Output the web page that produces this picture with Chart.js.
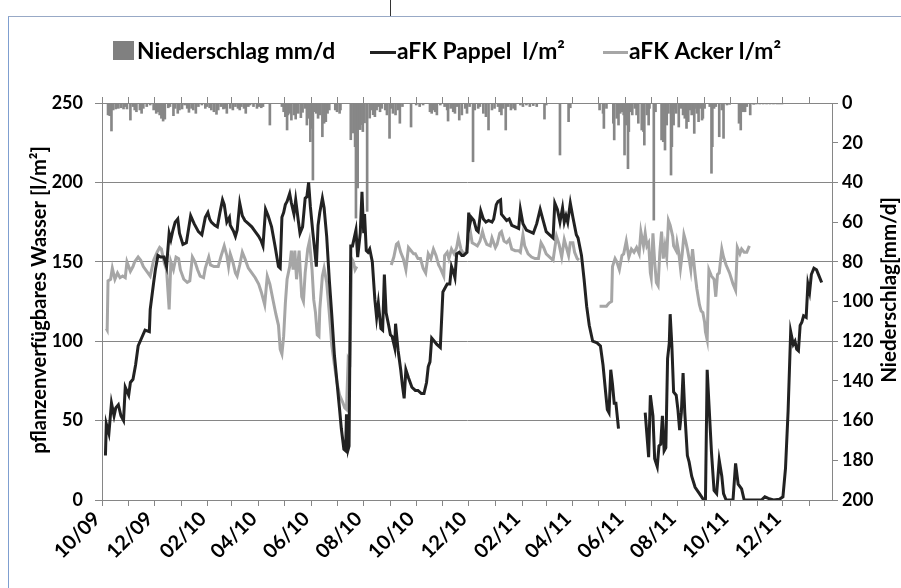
<!DOCTYPE html>
<html>
<head>
<meta charset="utf-8">
<title>aFK Pappel / Acker</title>
<script src="https://cdn.jsdelivr.net/npm/chart.js@4.4.0/dist/chart.umd.min.js"></script>
<style>
    html, body { margin: 0; padding: 0; background: #fff; }
    #wrap { position: relative; width: 901px; height: 588px; overflow: hidden; }
    #frame { position: absolute; left: 8px; top: 16px; width: 1000px; height: 1000px;
             border-left: 1px solid #7f9fd0; border-top: 1px solid #98a9c6; }
    #mark { position: absolute; left: 390px; top: 0; width: 1px; height: 16px; background: #333; }
    #chart { position: absolute; left: 0; top: 0; }
</style>
</head>
<body>
<div id="wrap">
    <div id="frame"></div>
    <div id="mark"></div>
    <canvas id="chart" width="901" height="588"></canvas>
</div>
<script>
// Day 0 = 01.10.2009
const tickLabels = ['10/09', '12/09', '02/10', '04/10', '06/10', '08/10', '10/10',
                    '12/10', '02/11', '04/11', '06/11', '08/11', '10/11', '12/11'];

// aFK Pappel l/m² (null = Messlücke)
const pappelDays = [4, 5, 8, 11, 14, 16, 19, 22, 25, 27, 31, 33, 36, 39, 42, 46, 50, 55, 56, 60,
    62, 65, 68, 72, 75, 78, 80, 82, 85, 88, 90, 94, 98, 103, 107, 112, 116, 120, 123, 125,
    127, 131, 134, 137, 140, 142, 145, 148, 149, 153, 155, 157, 160, 163, 166, 170, 174, 178, 182, 185,
    187, 190, 193, 197, 201, 205, 207, 209, 211, 213, 215, 218, 220, 223, 225, 228, 230, 233, 236, 238,
    240, 242, 245, 247, 249, 251, 253, 256, 258, 261, 264, 267, 270, 273, 276, 278, 281, 283, 284, 286,
    287, 289, 291, 295, 297, 300, 302, 304, 305, 307, 309, 311, 314, 317, 319, 321, 324, 326, 328, 330,
    333, 335, 337, 340, 341, 344, 347, 349, 351, 353, 356, 360, 364, 367, 371, 374, 377, 379, 381, 383,
    386, 389, 393, 396, 398, 401, 404, 406, 408, 410, 412, 415, 418, 420, 424, 426, 427, 429, 432, 435,
    437, 440, 443, 446, 449, 453, 455, 458, 460, 463, 464, 467, 470, 473, 476, 480, 484, 486, 489, 493,
    497, 501, 505, 509, 513, 516, 520, 524, 526, 529, 532, 535, 537, 539, 541, 544, 547, 551, 553, 557,
    560, 563, 566, 570, 575, 579, 582, 585, 587, 589, 591, 593, 595, 597, 600, 615,
    631, 633, 635, 637, 640, 642, 645, 647, 649, 651, 653, 655, 657, 659, 660, 662, 664, 667, 669, 671,
    673, 675, 677, 680, 682, 685, 689, 694, 699, 701, 703, 705, 708, 711, 714, 717, 720, 722, 725, 733,
    736, 739, 743, 746, 766, 770, 774, 780, 787, 791, 794, 797, 800, 803, 805, 807, 809, 811, 813, 815,
    818, 820, 822, 824, 827, 830, 833, 836];
const pappelValues = [28, 48, 42, 61, 53, 58, 60, 53, 50, 71, 66, 74, 76, 85, 97, 102, 107, 106, 120, 137,
    145, 154, 153, 153, 147, 168, 164, 169, 175, 177, 168, 161, 162, 179, 174, 169, 167, 178, 181, 177,
    175, 173, 172, 181, 189, 186, 175, 178, 173, 169, 166, 170, 187, 179, 176, 174, 172, 169, 166, 163,
    160, 183, 179, 172, 160, 147, 146, 178, 181, 186, 188, 193, 187, 180, 189, 176, 168, 172, 190, 191,
    200, 185, 168, 158, 147, 173, 181, 190, 184, 166, 139, 116, 91, 74, 57, 45, 32, 31, 54, 32,
    34, 160, 160, 170, 153, 168, 194, 168, 180, 157, 156, 158, 150, 126, 115, 124, 108, 107, 142, 118,
    110, 104, 103, 96, 111, 94, 82, 72, 64, 82, 77, 71, 69, 69, 67, 67, 74, 84, 87, 102,
    100, 98, 96, 131, 133, 136, 136, 147, 144, 140, 155, 156, 154, 154, 156, 181, 173, 178, 176, 170,
    169, 182, 177, 175, 176, 175, 177, 186, 188, 189, 180, 178, 176, 177, 173, 172, 171, 183, 174, 170,
    169, 168, 174, 183, 175, 169, 167, 165, 187, 183, 175, 184, 175, 179, 175, 187, 178, 167, 165, 154,
    139, 122, 110, 100, 99, 97, 85, 68, 57, 55, 82, 73, 61, 61, 45, null,
    55, 41, 27, 66, 53, 26, 21, 34, 35, 53, 31, 33, 89, 99, 117, 97, 68, 66, 57, 44,
    55, 80, 55, 28, 24, 15, 8, 4, 0, 0, 82, 61, 30, 6, 4, 25, 15, 4, 0, 0,
    23, 10, 7, 0, 0, 2, 1, 0, 0.5, 2, 20, 56, 106, 98, 100, 95, 94, 110, 112, 116,
    115, 136, 131, 142, 146, 145, 141, 137];

// aFK Acker l/m²
const ackerDays = [5, 6, 7, 10, 12, 15, 18, 21, 24, 27, 29, 33, 36, 38, 42, 45, 48, 52, 56, 60,
    64, 67, 69, 72, 75, 78, 80, 83, 86, 89, 91, 95, 99, 102, 105, 108, 111, 114, 118, 120,
    124, 126, 130, 135, 138, 142, 145, 147, 149, 152, 155, 157, 160, 163, 166, 170, 174, 178, 182, 185,
    189, 192, 195, 199, 202, 205, 207, 209, 211, 213, 215, 218, 220, 222, 224, 226, 229, 232, 234, 236,
    239, 241, 244, 246, 248, 250, 252, 253, 256, 258, 261, 264, 267, 270, 273, 276, 280, 282, 284, 286,
    288, 290, 292, 294, 296, 316,
    336, 339, 342, 344, 347, 350, 353, 356, 359, 362, 364, 367, 370, 373, 376, 379, 382, 385, 388, 391,
    393, 397, 398, 401, 403, 406, 409, 412, 414, 417, 420, 423, 426, 427, 430, 433, 436, 439, 442, 444,
    447, 451, 453, 457, 459, 462, 464, 467, 470, 473, 476, 480, 484, 486, 489, 491, 495, 499, 503, 507,
    510, 513, 516, 520, 524, 528, 531, 534, 537, 539, 542, 544, 547, 549, 552, 554, 566,
    578, 586, 589, 592, 593, 596, 598, 601, 604, 606, 609, 612, 615, 618, 621, 624, 626, 629, 631, 633,
    635, 637, 638, 640, 642, 644, 646, 648, 650, 652, 654, 656, 658, 660, 663, 664, 667, 668, 670, 672,
    674, 676, 678, 680, 682, 684, 686, 689, 691, 694, 696, 698, 700, 701, 703, 705, 708, 711, 713, 715,
    717, 720, 722, 725, 729, 733, 736, 738, 741, 743, 746, 749, 752];
const ackerValues = [108, 107, 138, 139, 146, 139, 143, 140, 141, 140, 150, 144, 147, 150, 153, 151, 147, 144, 141, 151,
    156, 159, 158, 150, 145, 120, 150, 145, 153, 152, 145, 139, 137, 138, 153, 150, 145, 141, 140, 146,
    153, 148, 147, 147, 153, 160, 154, 147, 155, 150, 143, 141, 148, 156, 152, 146, 143, 140, 136, 131,
    123, 141, 136, 125, 117, 110, 95, 92, 103, 124, 139, 147, 157, 145, 157, 139, 157, 128, 125, 143,
    158, 163, 145, 126, 118, 104, 103, 120, 141, 146, 137, 118, 97, 85, 74, 66, 61, 58, 57, 89,
    87, 152, 150, 145, 147, null,
    148, 153, 161, 162, 156, 152, 145, 159, 157, 155, 155, 152, 152, 146, 143, 155, 152, 158, 154, 148,
    146, 141, 154, 156, 152, 158, 155, 159, 165, 158, 155, 156, 165, 172, 162, 161, 160, 163, 169, 165,
    161, 160, 165, 159, 161, 168, 169, 163, 162, 164, 158, 157, 157, 156, 167, 160, 155, 153, 152, 152,
    162, 159, 155, 153, 151, 166, 161, 153, 164, 160, 154, 162, 162, 156, 152, 151, null,
    122, 122, 124, 125, 147, 152, 150, 145, 154, 155, 163, 153, 158, 156, 159, 155, 169, 160, 168, 160,
    162, 143, 140, 168, 150, 137, 135, 156, 169, 152, 160, 153, 176, 173, 166, 160, 157, 162, 156, 146,
    155, 167, 163, 158, 152, 145, 158, 142, 133, 123, 119, 118, 112, 106, 101, 145, 141, 139, 128, 142,
    143, 158, 153, 148, 143, 136, 132, 159, 155, 158, 156, 156, 160];

// Niederschlag mm/d
const rainDays = [7, 9, 11, 13, 16, 19, 22, 25, 27, 29, 33, 36, 38, 40, 44, 46, 48, 52, 56, 60,
    63, 65, 67, 69, 71, 73, 77, 79, 83, 85, 88, 90, 93, 96, 99, 101, 104, 106, 109, 112,
    116, 120, 122, 125, 127, 130, 133, 135, 138, 141, 143, 145, 149, 152, 155, 158, 160, 162, 165, 167,
    170, 172, 176, 180, 182, 185, 187, 195, 209, 211, 213, 215, 216, 218, 220, 223, 225, 228, 231, 233,
    236, 238, 240, 242, 244, 245, 247, 249, 251, 253, 256, 258, 260, 262, 264, 271, 273, 276, 277, 289,
    292, 294, 295, 297, 299, 300, 302, 303, 305, 308, 311, 313, 315, 317, 319, 321, 323, 325, 329, 331,
    334, 336, 338, 341, 344, 346, 349, 359, 365, 369, 373, 381, 383, 385, 387, 389, 393, 398, 401, 402,
    405, 408, 410, 412, 415, 418, 422, 424, 427, 431, 433, 437, 439, 443, 446, 449, 453, 456, 460, 462,
    464, 466, 469, 472, 475, 478, 480, 486, 489, 493, 497, 501, 505, 514, 516, 532, 542, 544, 578, 582,
    583, 586, 594, 595, 598, 600, 602, 604, 606, 607, 609, 611, 612, 614, 616, 619, 621, 623, 627, 629,
    630, 633, 635, 636, 641, 643, 650, 652, 654, 656, 658, 661, 662, 664, 666, 667, 670, 673, 675, 677,
    679, 681, 683, 685, 688, 689, 691, 693, 695, 697, 698, 700, 706, 708, 709, 711, 713, 717, 720, 722,
    726, 729, 740, 742, 745, 747, 749, 753, 757, 760, 764, 768, 772, 776, 780, 784, 787, 790];
const rainValues = [6.0, 6.4, 14.1, 3.5, 3.0, 2.7, 2.4, 3.0, 1.8, 3.0, 8.6, 1.8, 3.5, 4.4, 3.5, 5.2, 2.7, 1.8, 1.0, 3.5,
    5.2, 4.4, 6.0, 7.7, 9.1, 8.1, 2.4, 1.8, 6.4, 2.7, 5.2, 3.5, 3.0, 1.0, 2.7, 4.7, 2.7, 3.5, 5.2, 1.8,
    1.0, 2.7, 1.8, 2.4, 3.5, 4.4, 5.7, 3.5, 1.8, 3.0, 2.7, 5.2, 2.7, 3.5, 1.8, 2.7, 3.5, 1.8, 2.7, 5.2,
    1.8, 1.0, 1.8, 2.7, 1.8, 2.4, 1.8, 11.1, 1.8, 4.4, 6.9, 13.6, 6.0, 5.2, 8.6, 6.0, 8.1, 5.2, 7.4, 4.7,
    2.7, 11.1, 7.7, 19.5, 12.8, 38.8, 4.4, 5.2, 7.7, 6.0, 17.0, 10.2, 9.4, 5.2, 3.5, 3.5, 4.4, 5.2, 3.5, 18.5,
    15.1, 22.0, 58.0, 42.8, 11.1, 13.4, 10.9, 14.4, 10.0, 54.6, 7.6, 3.5, 5.9, 6.9, 3.5, 1.8, 4.4, 2.7, 3.5, 6.0,
    17.8, 2.7, 5.2, 6.0, 3.5, 10.2, 1.8, 12.1, 1.0, 1.8, 1.0, 4.4, 5.2, 3.5, 4.4, 6.0, 1.0, 1.8, 3.5, 9.1,
    2.7, 4.4, 5.2, 1.8, 8.6, 6.0, 2.7, 5.2, 1.8, 29.6, 3.5, 2.7, 1.8, 5.2, 6.9, 13.6, 3.5, 2.7, 1.8, 4.4,
    6.0, 2.7, 13.6, 1.8, 3.5, 2.7, 3.5, 1.0, 1.8, 1.0, 1.8, 1.3, 1.8, 8.1, 1.0, 26.2, 9.4, 2.4, 3.5, 5.2,
    12.8, 2.7, 10.2, 18.6, 7.7, 11.1, 5.2, 4.4, 6.0, 26.2, 11.1, 33.1, 14.4, 4.4, 6.0, 2.7, 6.0, 10.2, 13.6, 14.4,
    21.2, 6.0, 11.1, 2.7, 59.0, 4.4, 18.6, 19.5, 23.7, 11.1, 5.2, 36.3, 22.0, 11.1, 2.7, 5.2, 12.1, 2.7, 6.0, 7.7,
    12.8, 9.4, 3.5, 6.0, 15.3, 2.7, 5.2, 9.4, 2.7, 8.6, 7.7, 2.7, 1.8, 35.4, 22.0, 2.7, 1.8, 17.0, 3.5, 17.8,
    1.0, 0.7, 10.2, 13.6, 4.4, 4.4, 1.8, 6.0, 0.7, 0.5, 0.5, 0.5, 0.5, 0.5, 0.5, 0.5, 0.5, 0.5];

const FONT = 'Lato, "Liberation Sans", sans-serif';
const GRID = '#868686';

// month ticks (every month, label every 2nd)
const startDate = Date.UTC(2009, 9, 1);
const monthTicks = [];
for (let m = 0; m < 28; m++) {
    monthTicks.push((Date.UTC(2009, 9 + m, 1) - startDate) / 86400000);
}

function toPoints(days, values) {
    return days.map((d, i) => ({ x: d, y: values[i] }));
}

function setMonthTicks(scale) {
    scale.ticks = monthTicks.map(v => ({ value: v }));
}

// font size so that text gets the given width
function fitFont(c, text, width) {
    c.font = 'bold 20px ' + FONT;
    const size = 20 * width / c.measureText(text).width;
    c.font = 'bold ' + size.toFixed(1) + 'px ' + FONT;
}

// Legend + axis titles
const chartDecor = {
    id: 'chartDecor',
    afterDraw(chart) {
        const c = chart.ctx;
        const ds = chart.data.datasets;
        c.save();
        c.textBaseline = 'alphabetic';
        c.textAlign = 'left';
        fitFont(c, ds[2].label, 198);

        c.fillStyle = '#808080';
        c.fillRect(113, 41, 21, 19);
        c.fillStyle = '#000';
        c.fillText(ds[2].label, 137, 59);

        c.fillStyle = ds[0].borderColor;
        c.fillRect(370, 51, 26, 3);
        c.fillStyle = '#000';
        c.fillText(ds[0].label, 397, 59);

        c.fillStyle = ds[1].borderColor;
        c.fillRect(603, 51, 25, 3);
        c.fillStyle = '#000';
        c.fillText(ds[1].label, 629, 59);

        c.textAlign = 'center';
        c.textBaseline = 'middle';
        fitFont(c, 'pflanzenverfügbares Wasser [l/m²]', 308);
        c.translate(40, 300);
        c.rotate(-Math.PI / 2);
        c.fillText('pflanzenverfügbares Wasser [l/m²]', 0, 0);
        c.setTransform(1, 0, 0, 1, 0, 0);
        fitFont(c, 'Niederschlag[mm/d]', 186);
        c.translate(889, 290);
        c.rotate(-Math.PI / 2);
        c.fillText('Niederschlag[mm/d]', 0, 0);
        c.restore();
    }
};

const ctx = document.getElementById('chart').getContext('2d');
new Chart(ctx, {
    data: {
        datasets: [{
            type: 'line',
            label: 'aFK Pappel  l/m²',
            data: toPoints(pappelDays, pappelValues),
            borderColor: '#222222',
            borderWidth: 3,
            pointRadius: 0,
            tension: 0,
            spanGaps: false,
            xAxisID: 'x',
            yAxisID: 'y',
            order: 1
        }, {
            type: 'line',
            label: 'aFK Acker l/m²',
            data: toPoints(ackerDays, ackerValues),
            borderColor: '#a6a6a6',
            borderWidth: 3,
            pointRadius: 0,
            tension: 0,
            spanGaps: false,
            xAxisID: 'x',
            yAxisID: 'y',
            order: 2
        }, {
            type: 'bar',
            label: 'Niederschlag mm/d',
            data: toPoints(rainDays, rainValues),
            backgroundColor: '#878787',
            barThickness: 2,
            xAxisID: 'x',
            yAxisID: 'y2',
            order: 3
        }]
    },
    options: {
        responsive: false,
        animation: false,
        layout: { padding: 0 },
        plugins: {
            legend: { display: false },
            tooltip: { enabled: false }
        },
        scales: {
            x: {
                type: 'linear',
                position: 'bottom',
                min: 0,
                max: 848,
                offset: false,
                afterBuildTicks: setMonthTicks,
                afterFit: s => { s.height = 88; },
                ticks: {
                    autoSkip: false,
                    minRotation: 45,
                    maxRotation: 45,
                    padding: 1,
                    labelOffset: -5,
                    color: '#000',
                    font: { family: FONT, size: 20, weight: 'bold' },
                    callback: (v, i) => (i % 2 === 0 ? tickLabels[i / 2] : '')
                },
                grid: { drawOnChartArea: false, offset: false, tickLength: 6, color: GRID },
                border: { color: GRID }
            },
            xTop: {
                type: 'linear',
                position: 'top',
                min: 0,
                max: 848,
                offset: false,
                afterBuildTicks: setMonthTicks,
                afterFit: s => { s.height = 103; },
                ticks: { display: false },
                grid: { drawOnChartArea: false, offset: false, tickLength: 6, color: GRID },
                border: { display: false }
            },
            y: {
                position: 'left',
                min: 0,
                max: 250,
                afterFit: s => { s.width = 102; },
                ticks: {
                    stepSize: 50,
                    padding: 12,
                    color: '#000',
                    font: { family: FONT, size: 18, weight: 'bold' }
                },
                grid: { color: GRID, tickLength: 7 },
                border: { color: GRID }
            },
            y2: {
                position: 'right',
                min: 0,
                max: 200,
                reverse: true,
                afterFit: s => { s.width = 69; },
                ticks: {
                    stepSize: 20,
                    padding: 4,
                    color: '#000',
                    font: { family: FONT, size: 18, weight: 'bold' }
                },
                grid: { drawOnChartArea: false, tickLength: 6, color: GRID },
                border: { color: GRID }
            }
        }
    },
    plugins: [chartDecor]
});
</script>
</body>
</html>
